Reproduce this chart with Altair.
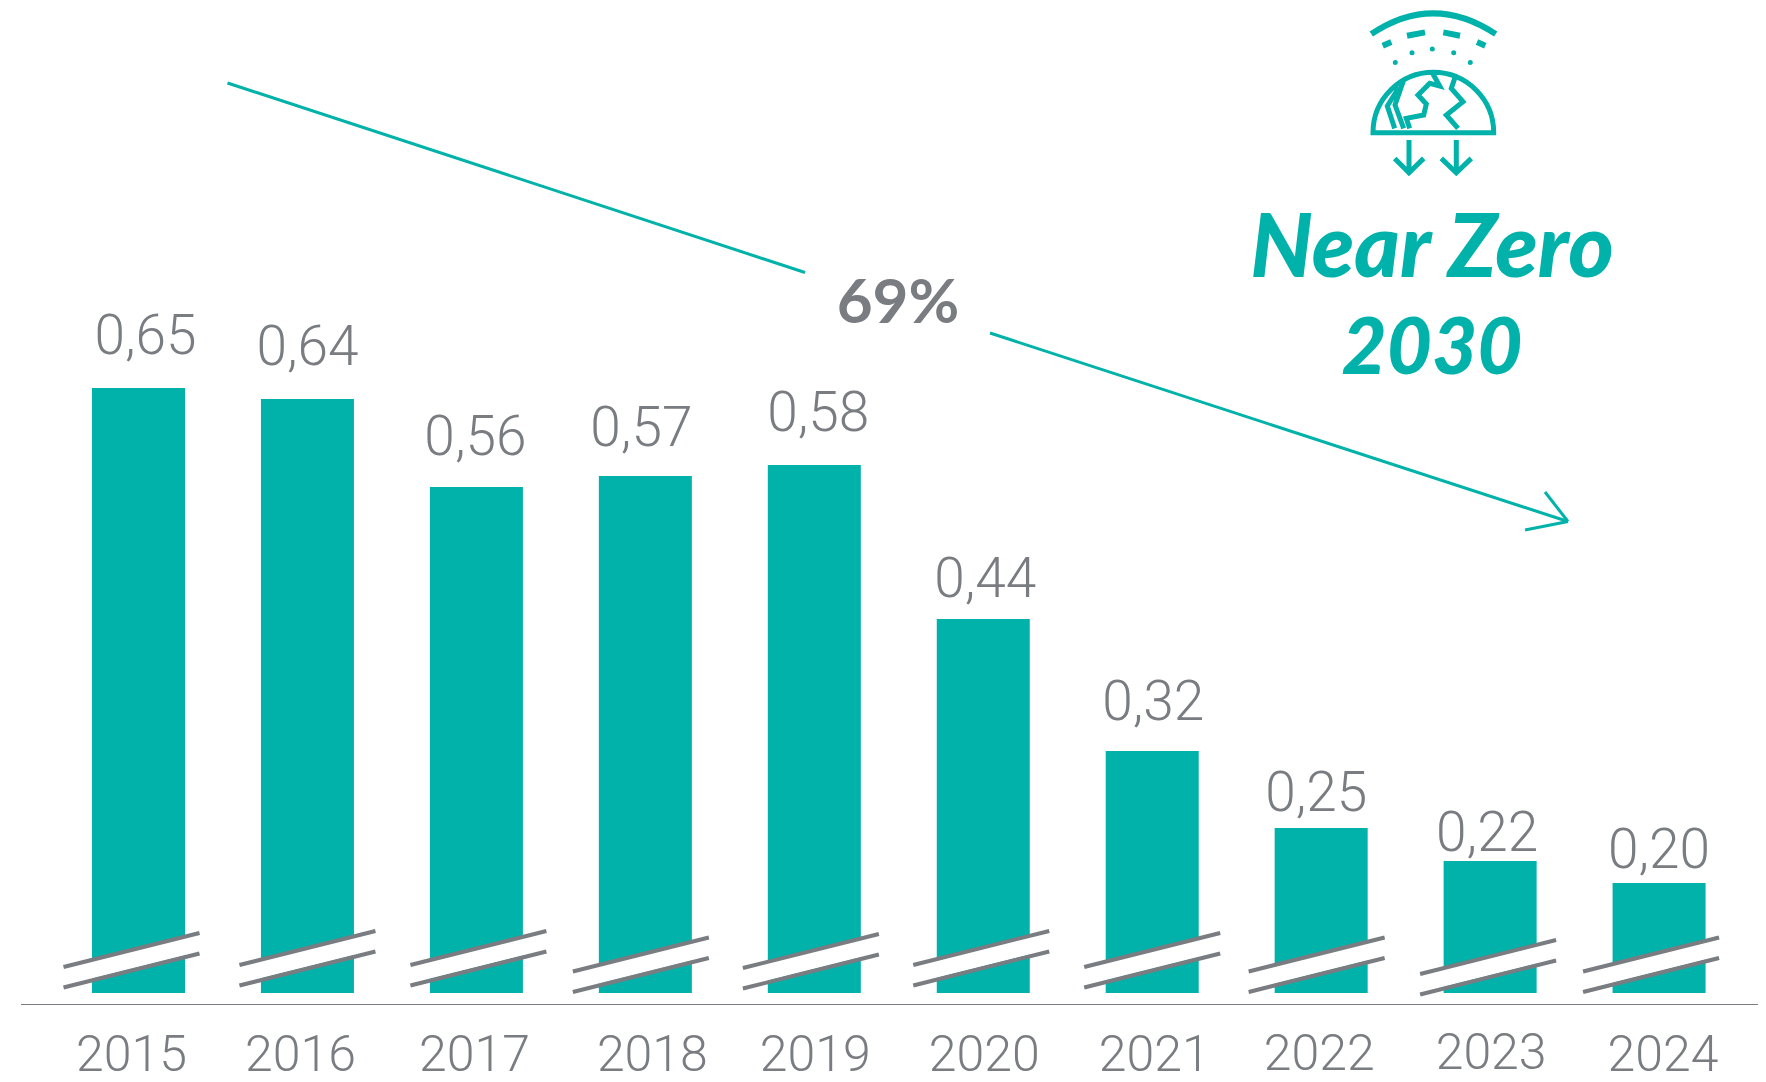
import altair as alt
import pandas as pd

years = [2015, 2016, 2017, 2018, 2019, 2020, 2021, 2022, 2023, 2024]
values = [0.65, 0.64, 0.56, 0.57, 0.58, 0.44, 0.32, 0.25, 0.22, 0.20]
labels = ["0,65", "0,64", "0,56", "0,57", "0,58", "0,44", "0,32", "0,25", "0,22", "0,20"]
year_labels = [str(y) for y in years]

TEAL = "#00b2a9"
GREY = "#797c80"
W, H = 1750, 1074
FONT = "Roboto"

# plot-area pixel = page pixel - 8
val_dx = [7, 0, -1, -4, 4, 2, 1, -5, -3, 0]
val_dy = [-33, -33, -31, -29, -33, -21, -30, -16, -9, -14]
year_dx = [-7, -7, -2, 7, 1, 1, 2, -2, 1, 4]
year_base = [1063, 1063, 1063, 1063, 1063, 1063, 1063, 1062, 1061, 1063]
brk_dx = [-7, 0, 2, -4.5, -3.4, -2, 0, -4.5, -2, -8]
brk_dy = [1, -1, -1, 5.5, 2, -1, 1, 5.5, 8, 5.5]

x_scale = alt.Scale(domain=[2014.2276, 2024.5855], range=[0, W], nice=False, zero=False, padding=0)
y_scale = alt.Scale(domain=[0.01909, 0.99545], range=[H, 0], nice=False, zero=False)
X = alt.X("year:Q", scale=x_scale, axis=None)
Y = alt.Y("value:Q", scale=y_scale, axis=None)

df = pd.DataFrame({"year": years, "value": values, "base": [0.10] * 10, "label": labels, "yl": year_labels})

bars = alt.Chart(df).mark_bar(size=93, color=TEAL).encode(x=X, y=Y, y2="base:Q")

baseline = alt.Chart(pd.DataFrame({"a": [0]})).mark_rule(color=GREY, strokeWidth=1.2).encode(
    x=alt.value(13), x2=alt.value(W), y=alt.value(996.5))

layers = [bars, baseline]

for i in range(10):
    row = df.iloc[[i]]
    px = 130.5 + (years[i] - 2015) * 168.95
    py = 985
    dx, dy = brk_dx[i], brk_dy[i]
    cx = alt.Chart(row)
    layers.append(cx.mark_rule(color="white", strokeWidth=17).encode(
        x=alt.value(px + dx - 68), x2=alt.value(px + dx + 68),
        y=alt.value(py - 17 + dy), y2=alt.value(py - 51 + dy)))
    layers.append(cx.mark_rule(color=GREY, strokeWidth=4).encode(
        x=alt.value(px + dx - 68), x2=alt.value(px + dx + 68),
        y=alt.value(py - 27 + dy), y2=alt.value(py - 61 + dy)))
    layers.append(cx.mark_rule(color=GREY, strokeWidth=4).encode(
        x=alt.value(px + dx - 68), x2=alt.value(px + dx + 68),
        y=alt.value(py - 6.5 + dy), y2=alt.value(py - 40.5 + dy)))
    layers.append(cx.mark_text(font=FONT, fontWeight=300, fontSize=55, color=GREY, baseline="bottom", dx=val_dx[i], dy=val_dy[i] + 11).encode(
        x=X, y=Y, text="label:N"))
    layers.append(cx.mark_text(font=FONT, fontWeight=300, fontSize=50, color=GREY, baseline="alphabetic", dx=year_dx[i]).encode(
        x=X, y=alt.value(year_base[i]), text="yl:N"))

one = pd.DataFrame({"a": [0]})
segments = [
    (219.5, 75, 797, 264.5),
    (982, 325, 1560, 513.5),
    (1537, 484, 1560, 513.5),
    (1517, 522, 1560, 513.5),
]
for (a, b, c, d) in segments:
    layers.append(alt.Chart(one).mark_rule(color=TEAL, strokeWidth=3).encode(
        x=alt.value(a), y=alt.value(b), x2=alt.value(c), y2=alt.value(d)))

layers.append(alt.Chart(pd.DataFrame({"t": ["69%"]})).mark_text(
    font="Lato", fontWeight="bold", fontSize=62, color=GREY, baseline="alphabetic").encode(
    x=alt.value(890), y=alt.value(315), text="t:N"))
for t, yy, fs in (("Near Zero", 269, 87), ("2030", 366, 78)):
    layers.append(alt.Chart(pd.DataFrame({"t": [t]})).mark_text(
        font="Lato", fontWeight=900, fontStyle="italic", fontSize=fs, color=TEAL, baseline="alphabetic").encode(
        x=alt.value(1424), y=alt.value(yy), text="t:N"))


def pt(x, y):
    return f"{(x - 700) / 3:.1f} {(y - 200) / 3:.1f}"


def poly(*pts):
    return "M" + " L".join(pt(*p) for p in pts)


def dot(x, y):
    cx, cy = (x - 700) / 3, (y - 200) / 3
    return f"M{cx - 1:.1f} {cy:.1f}A1 1 0 1 1 {cx + 1:.1f} {cy:.1f}A1 1 0 1 1 {cx - 1:.1f} {cy:.1f}Z"


thick = f"M{pt(515, 102)}Q{pt(700, -22)} {pt(888, 102)}"
dashes = " ".join([
    poly((622, 107), (676, 97)), poly((731, 97), (781, 107)),
    poly((549, 137), (575, 126)), poly((832, 126), (857, 137)),
])
thin = " ".join([
    f"M{pt(520, 398)}A60 60 0 0 1 {pt(882, 398)}Z",
    poly((598, 262), (563, 318), (585, 385)),
    poly((612, 240), (586, 315), (612, 385)),
    poly((700, 222), (720, 258), (690, 250), (655, 285), (680, 312), (672, 345), (620, 355), (630, 385)),
    poly((765, 235), (755, 265), (790, 305), (740, 345), (775, 385)),
    poly((628, 420), (628, 515)), poly((585, 475), (628, 518), (672, 475)),
    poly((770, 420), (770, 515)), poly((725, 475), (770, 518), (815, 475)),
])
dots = " ".join(dot(*p) for p in [(637, 158), (698, 147), (762, 158), (587, 187), (812, 187)])

for path, sw in ((thick, 6), (dashes, 6), (thin, 5)):
    layers.append(alt.Chart(one).mark_point(shape=path, size=4, filled=False, stroke=TEAL, strokeWidth=sw, opacity=1).encode(
        x=alt.value(1425), y=alt.value(58.7)))
layers.append(alt.Chart(one).mark_point(shape=dots, size=4, filled=True, fill=TEAL, stroke=TEAL, strokeWidth=3, opacity=1).encode(
    x=alt.value(1425), y=alt.value(58.7)))

chart = alt.layer(*layers).resolve_scale(y="shared").properties(
    width=W, height=H, padding=0, autosize=alt.AutoSizeParams(type="none")
).configure_view(stroke=None)

chart.save("out.html", embed_options={"renderer": "svg", "actions": False})
